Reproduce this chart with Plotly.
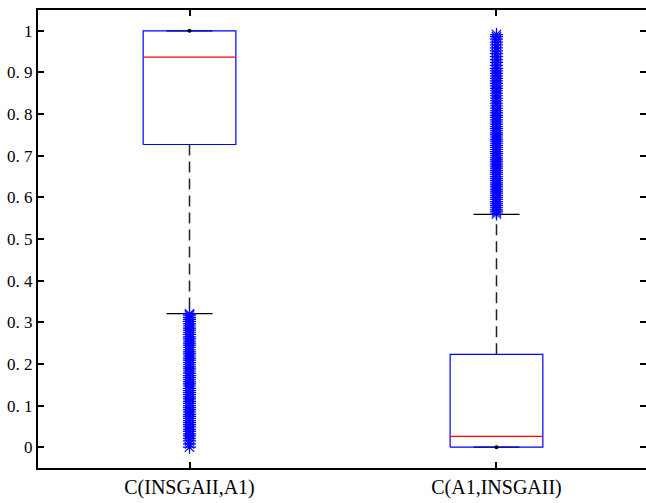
import plotly.graph_objects as go

categories = ["C(INSGAII,A1)", "C(A1,INSGAII)"]
positions = [1, 2]
q1 = [0.727, 0.000]
median = [0.937, 0.026]
q3 = [1.000, 0.223]
lower_whisker = [0.321, 0.000]
upper_whisker = [1.000, 0.559]

outliers_1 = [0.000, 0.008, 0.015, 0.021, 0.027, 0.032, 0.038, 0.043, 0.049, 0.054,
              0.059, 0.064, 0.069, 0.074, 0.079, 0.085, 0.090, 0.095, 0.100, 0.105,
              0.110, 0.116, 0.121, 0.126, 0.131, 0.136, 0.141, 0.147, 0.152, 0.157,
              0.162, 0.167, 0.172, 0.178, 0.183, 0.188, 0.193, 0.198, 0.203, 0.209,
              0.214, 0.219, 0.224, 0.229, 0.234, 0.240, 0.245, 0.250, 0.255, 0.260,
              0.265, 0.271, 0.276, 0.281, 0.286, 0.291, 0.296, 0.302, 0.307, 0.312,
              0.317, 0.320]
outliers_2 = [0.560, 0.565, 0.570, 0.575, 0.580, 0.585, 0.590, 0.595, 0.600, 0.605,
              0.610, 0.615, 0.620, 0.625, 0.630, 0.635, 0.640, 0.645, 0.650, 0.655,
              0.660, 0.665, 0.670, 0.675, 0.680, 0.685, 0.690, 0.695, 0.700, 0.705,
              0.710, 0.715, 0.720, 0.725, 0.730, 0.735, 0.740, 0.745, 0.750, 0.755,
              0.760, 0.765, 0.770, 0.776, 0.781, 0.786, 0.792, 0.797, 0.803, 0.808,
              0.814, 0.820, 0.826, 0.832, 0.838, 0.844, 0.850, 0.856, 0.862, 0.868,
              0.874, 0.880, 0.886, 0.892, 0.898, 0.904, 0.910, 0.917, 0.924, 0.931,
              0.938, 0.945, 0.952, 0.959, 0.966, 0.973, 0.980, 0.986, 0.991]
outliers = [outliers_1, outliers_2]

y_tickvals = [0, 0.1, 0.2, 0.3, 0.4, 0.5, 0.6, 0.7, 0.8, 0.9, 1]
y_ticktext = ["0", "0. 1", "0. 2", "0. 3", "0. 4", "0. 5", "0. 6", "0. 7", "0. 8", "0. 9", "1"]

BOX_HALF = 0.151
CAP_HALF = 0.075
BLUE = "#0000ff"
DASH = dict(color="#222222", width=1.5, dash="11px,6px")

fig = go.Figure()

for i, c in enumerate(positions):
    # whiskers (dashed black), drawn outward from the box
    fig.add_trace(go.Scatter(x=[c, c], y=[q1[i], lower_whisker[i]], mode="lines",
                             line=DASH, showlegend=False, hoverinfo="skip"))
    fig.add_trace(go.Scatter(x=[c, c], y=[q3[i], upper_whisker[i]], mode="lines",
                             line=DASH, showlegend=False, hoverinfo="skip"))
    # caps
    for w in (lower_whisker[i], upper_whisker[i]):
        fig.add_trace(go.Scatter(x=[c - CAP_HALF, c + CAP_HALF], y=[w, w], mode="lines",
                                 line=dict(color="black", width=1.2),
                                 showlegend=False, hoverinfo="skip"))
    # box
    fig.add_trace(go.Scatter(x=[c - BOX_HALF, c + BOX_HALF, c + BOX_HALF, c - BOX_HALF, c - BOX_HALF],
                             y=[q1[i], q1[i], q3[i], q3[i], q1[i]], mode="lines",
                             line=dict(color=BLUE, width=1.2),
                             showlegend=False, hoverinfo="skip"))
    # median
    fig.add_trace(go.Scatter(x=[c - BOX_HALF, c + BOX_HALF], y=[median[i], median[i]], mode="lines",
                             line=dict(color="red", width=1.2),
                             showlegend=False, hoverinfo="skip"))
    # outliers
    fig.add_trace(go.Scatter(x=[c] * len(outliers[i]), y=outliers[i], mode="markers",
                             marker=dict(symbol="asterisk-open", size=11, color=BLUE,
                                         line=dict(color=BLUE, width=1.2)),
                             showlegend=False, hoverinfo="skip"))

# degenerate whisker end dots
fig.add_trace(go.Scatter(x=positions, y=[upper_whisker[0], lower_whisker[1]], mode="markers",
                         marker=dict(color="black", size=4),
                         showlegend=False, hoverinfo="skip"))

fig.update_layout(
    width=646, height=503,
    margin=dict(l=38, r=0, t=10, b=35),
    plot_bgcolor="white", paper_bgcolor="white",
    font=dict(family="Liberation Serif", color="black"),
    xaxis=dict(range=[0.5065, 2.487], tickvals=positions, ticktext=categories,
               ticks="inside", ticklen=6, tickcolor="black", tickwidth=1.5,
               showline=True, linecolor="black", linewidth=2, mirror="ticks",
               showgrid=False, zeroline=False,
               tickfont=dict(family="Liberation Serif", size=20, color="black")),
    yaxis=dict(range=[-0.05, 1.05], tickvals=y_tickvals, ticktext=y_ticktext,
               ticks="inside", ticklen=6, tickcolor="black", tickwidth=1.5,
               showline=True, linecolor="black", linewidth=2,
               showgrid=False, zeroline=False,
               tickfont=dict(family="Liberation Serif", size=17, color="black")),
    yaxis2=dict(range=[-0.05, 1.05], overlaying="y", side="right", anchor="x",
                tickvals=y_tickvals, showticklabels=False,
                ticks="inside", ticklen=6, tickcolor="black", tickwidth=1.5,
                showline=False, showgrid=False, zeroline=False),
)

fig.add_trace(go.Scatter(x=[None], y=[None], yaxis="y2", showlegend=False, hoverinfo="skip"))

fig.write_html("out.html")
